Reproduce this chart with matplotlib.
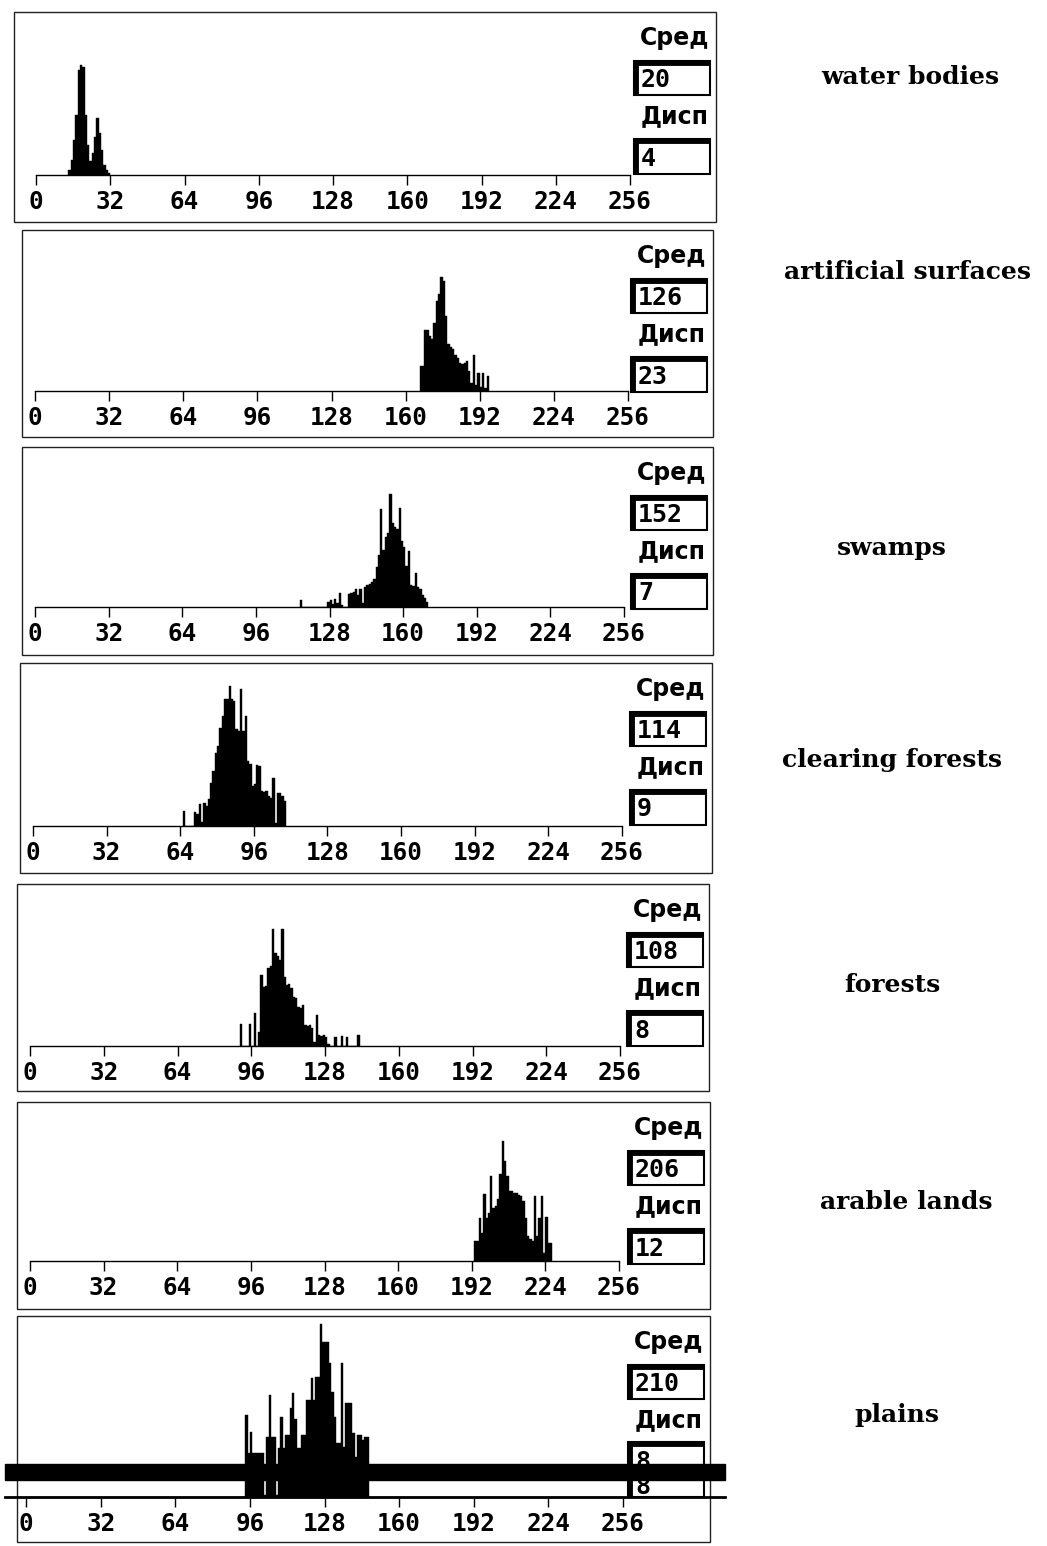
from __future__ import annotations

import matplotlib

matplotlib.use("Agg")
import matplotlib.pyplot as plt
from matplotlib.patches import Rectangle

W, H = 1047, 1546
OUTPUT = "out.png"

# ---- data (heights in screen pixels) ----
CLASS_NAMES = ["water bodies", "artificial surfaces", "swamps",
               "clearing forests", "forests", "arable lands", "plains"]
MEAN_VALUES = ["20", "126", "152", "114", "108", "206", "210"]
DISP_VALUES = ["4", "23", "7", "9", "8", "12", "8"]
TICKS = [0, 32, 64, 96, 128, 160, 192, 224, 256]
TICK_LABELS = ["0", "32", "64", "96", "128", "160", "192", "224", "256"]

WATER_START = 14
WATER = [5, 15, 35, 60, 105, 110, 108, 60, 30, 14, 22, 38, 57, 42, 25, 10, 5, 2]

ARTIFICIAL_START = 166
ARTIFICIAL = [25, 25, 61, 61, 55, 52, 68, 90, 97, 114, 110, 75, 47, 44, 42,
              36, 33, 28, 27, 28, 30, 20, 8, 36, 6, 18, 4, 18, 3, 15]

SWAMPS_START = 115
SWAMPS = [7, 0, 0, 0, 0, 0, 0, 0, 0, 0, 0, 0, 5, 7, 3, 8, 4, 14, 2, 0, 0,
          13, 14, 15, 18, 12, 18, 4, 20, 22, 23, 25, 28, 40, 52, 98, 57, 70,
          74, 113, 84, 80, 78, 99, 66, 60, 41, 56, 22, 21, 34, 20, 18, 12, 9, 5]

CLEARING_START = 65
CLEARING = [15, 0, 0, 0, 0, 14, 12, 22, 4, 23, 20, 27, 43, 55, 73, 80, 98,
            110, 127, 127, 140, 127, 125, 97, 95, 137, 95, 110, 65, 62, 40,
            42, 61, 60, 35, 34, 35, 30, 28, 48, 3, 33, 33, 30, 25]

FORESTS_START = 91
FORESTS = [22, 0, 0, 0, 22, 0, 33, 0, 14, 71, 59, 60, 78, 80, 117, 93, 90,
           86, 117, 69, 61, 62, 58, 49, 48, 39, 38, 41, 21, 20, 21, 18, 4, 31,
           11, 10, 11, 9, 2, 0, 0, 9, 0, 0, 10, 0, 9, 0, 0, 0, 0, 11]

ARABLE_START = 193
ARABLE = [20, 20, 43, 28, 67, 43, 48, 85, 53, 55, 62, 87, 120, 100, 85, 70,
          70, 68, 68, 66, 65, 60, 43, 25, 22, 20, 65, 25, 43, 65, 8, 44, 18, 18]

PLAINS_START = 94
PLAINS = [82, 44, 65, 44, 44, 44, 44, 44, 2, 60, 102, 60, 60, 2, 49, 80, 49,
          62, 62, 89, 104, 78, 49, 49, 62, 62, 97, 97, 119, 97, 120, 120, 173,
          155, 155, 155, 134, 105, 80, 54, 54, 134, 50, 94, 94, 94, 64, 40, 62,
          62, 57, 60, 60]

SERIES = [(WATER_START, WATER), (ARTIFICIAL_START, ARTIFICIAL),
          (SWAMPS_START, SWAMPS), (CLEARING_START, CLEARING),
          (FORESTS_START, FORESTS), (ARABLE_START, ARABLE),
          (PLAINS_START, PLAINS)]

# ---- layout in pixels: panel box, baseline, screen x of 0 and 256 ----
BOXES = [(14, 12, 716, 222), (22, 230, 713, 437), (22, 447, 713, 655),
         (20, 663, 712, 873), (17, 884, 709, 1091), (17, 1102, 710, 1309),
         (17, 1316, 710, 1542)]
BASELINES = [175, 391, 607, 826, 1046, 1261, 1497]
X_ZERO = [36, 35, 35, 33, 30, 30, 26]
X_FULL = [630, 628, 624, 622, 620, 619, 623]
LABEL_POS = [(910, 77), (908, 272), (892, 548), (892, 760), (892, 985),
             (906, 1202), (897, 1415)]

MONO = "DejaVu Sans Mono"


def fig_rect(left, top, right, bottom):
    return [left / W, 1 - bottom / H, (right - left) / W, (bottom - top) / H]


def value_box(ov, x0, y0, x1, y1, text):
    ov.add_patch(Rectangle((x0, y0), x1 - x0, y1 - y0, fill=False,
                           edgecolor="black", linewidth=1.5, zorder=5))
    ov.plot([x0, x1], [y0 + 1.5, y0 + 1.5], color="black", lw=3.5, zorder=6,
            solid_capstyle="butt")
    ov.plot([x0 + 1.5, x0 + 1.5], [y0, y1], color="black", lw=3.5, zorder=6,
            solid_capstyle="butt")
    ov.text(x0 + 7, (y0 + y1) / 2 + 2, text, fontsize=18, fontfamily=MONO,
            fontweight="bold", ha="left", va="center", zorder=7)


def main() -> None:
    fig = plt.figure(figsize=(W / 100, H / 100), dpi=100)
    fig.patch.set_facecolor("white")

    for i, (start, heights) in enumerate(SERIES):
        left, top, right, bottom = BOXES[i]
        base = BASELINES[i]
        scale = (X_FULL[i] - X_ZERO[i]) / 256
        ax = fig.add_axes(fig_rect(left, top, right, bottom))
        ax.set_xlim((left - X_ZERO[i]) / scale, (right - X_ZERO[i]) / scale)
        ax.set_ylim(-(bottom - base), base - top)
        bins = list(range(start, start + len(heights)))
        ax.bar(bins, heights, width=1.0, align="edge", color="black",
               edgecolor="black", linewidth=0.3)
        for side in ("top", "left", "right"):
            ax.spines[side].set_visible(False)
        ax.spines["bottom"].set_position(("data", 0))
        ax.spines["bottom"].set_bounds(0, 256)
        ax.spines["bottom"].set_linewidth(1.0)
        ax.set_yticks([])
        ax.set_xticks(TICKS)
        ax.set_xticklabels(TICK_LABELS, fontfamily=MONO, fontweight="bold")
        ax.tick_params(axis="x", direction="out", length=7, width=1.0,
                       pad=4, labelsize=17.5)
        ax.add_patch(Rectangle((0, 0), 1, 1, transform=ax.transAxes,
                               fill=False, edgecolor="#222222", linewidth=1.0,
                               clip_on=False))

    ov = fig.add_axes([0, 0, 1, 1])
    ov.set_xlim(0, W)
    ov.set_ylim(H, 0)
    ov.axis("off")
    ov.set_zorder(10)

    for i, (left, top, right, bottom) in enumerate(BOXES):
        bx0, bx1 = right - 82, right - 6
        ov.text((bx0 + bx1) / 2 + 3, top + 26, "Сред", fontsize=17,
                fontweight="bold", ha="center", va="center")
        value_box(ov, bx0, top + 49, bx1, top + 83, MEAN_VALUES[i])
        ov.text((bx0 + bx1) / 2 + 3, top + 104, "Дисп", fontsize=17,
                fontweight="bold", ha="center", va="center")
        if i < 6:
            value_box(ov, bx0, top + 127, bx1, top + 162, DISP_VALUES[i])
        else:
            value_box(ov, bx0, top + 126, bx1, BASELINES[i], "")
            ov.text(bx0 + 7, 1462, DISP_VALUES[i], fontsize=18, fontfamily=MONO,
                    fontweight="bold", ha="left", va="center", zorder=7)
            ov.text(bx0 + 7, 1487, DISP_VALUES[i], fontsize=18, fontfamily=MONO,
                    fontweight="bold", ha="left", va="center", zorder=7)

        lx, ly = LABEL_POS[i]
        ov.text(lx, ly, CLASS_NAMES[i], fontsize=18, fontfamily="DejaVu Serif",
                fontweight="bold", ha="center", va="center")

    # scan artefacts across the last panel
    ov.add_patch(Rectangle((5, 1464), 720, 16, color="black", zorder=8))
    ov.plot([5, 725], [1497, 1497], color="black", lw=2, zorder=8)

    fig.savefig(OUTPUT, dpi=100)
    plt.close(fig)


if __name__ == "__main__":
    main()
